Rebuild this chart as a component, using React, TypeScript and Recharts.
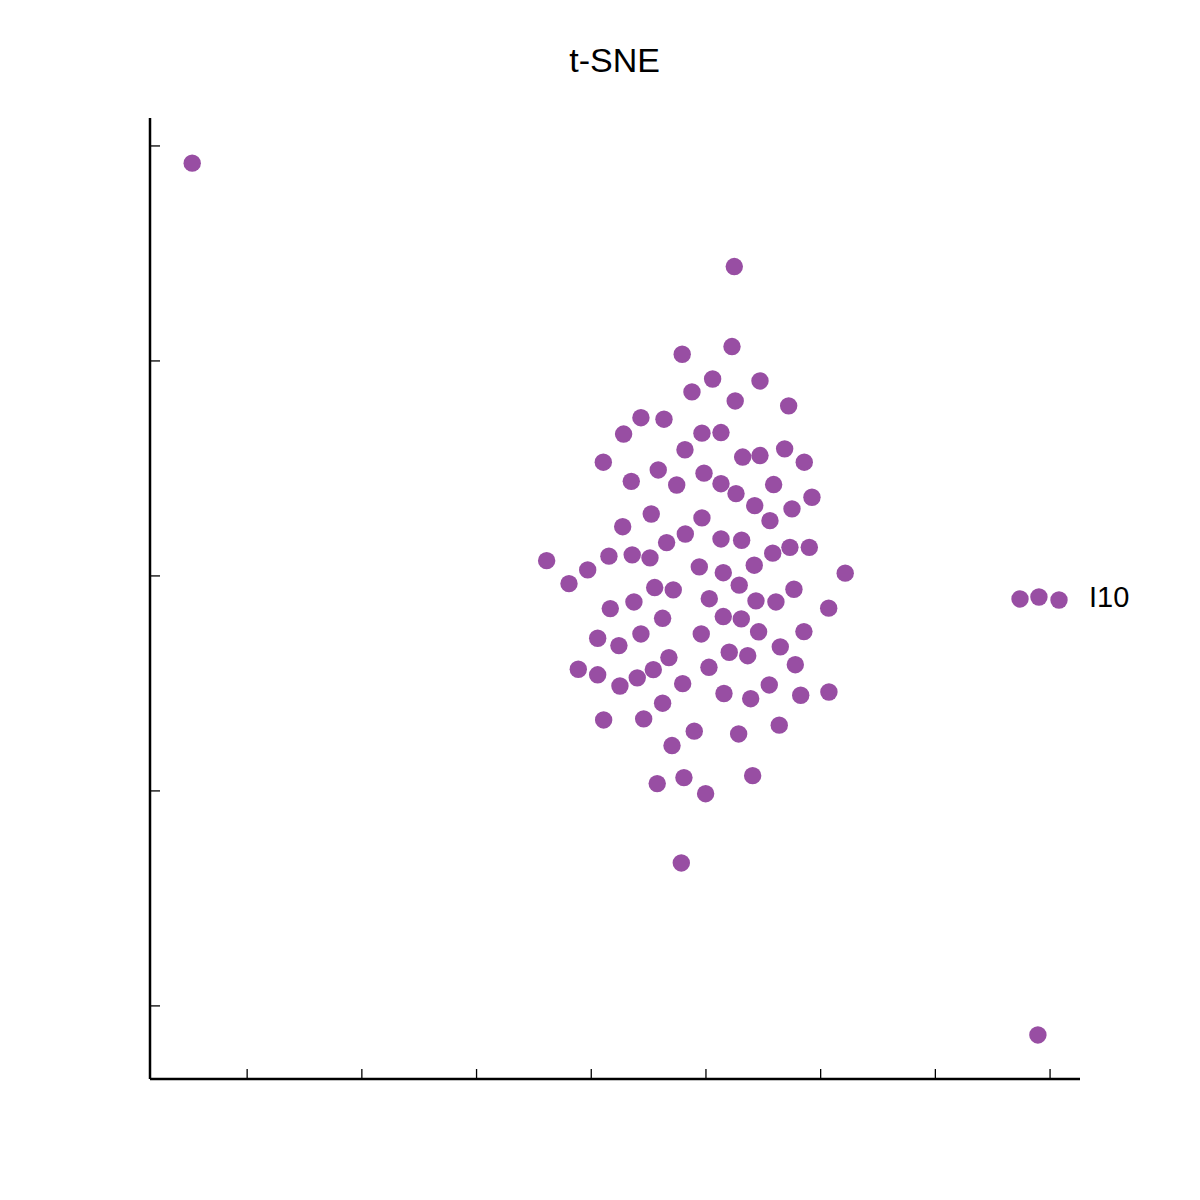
import React from "react";
import { ScatterChart, Scatter, XAxis, YAxis, ZAxis, LabelList } from "recharts";

// t-SNE embedding
const clusterPoints: [number, number][] = [
  [2.27, 10.67], [-2.07, 10.31], [0.58, 9.16], [-1.22, 8.56], [4.71, 9.07],
  [2.55, 8.14], [7.21, 7.91], [-5.67, 7.36], [-3.66, 7.29], [-7.18, 6.6],
  [-0.35, 6.64], [1.31, 6.67], [-1.83, 5.87], [3.2, 5.53], [4.71, 5.6],
  [6.86, 5.91], [8.57, 5.29], [-8.95, 5.29], [-4.16, 4.93], [-6.51, 4.4],
  [-2.55, 4.23], [-0.17, 4.78], [1.31, 4.29], [2.62, 3.83], [5.9, 4.25],
  [4.25, 3.27], [9.24, 3.66], [7.5, 3.12], [5.58, 2.57], [-4.77, 2.88],
  [-7.26, 2.29], [-0.35, 2.7], [-1.8, 1.95], [-3.43, 1.55], [1.31, 1.72],
  [3.11, 1.66], [-13.89, 0.71], [-10.31, 0.28], [-8.46, 0.92], [-6.43, 0.98],
  [-4.88, 0.84], [-0.58, 0.42], [1.51, 0.15], [4.21, 0.5], [5.82, 1.06],
  [7.32, 1.33], [9.01, 1.33], [12.14, 0.13], [-11.94, -0.36], [-4.47, -0.54],
  [-2.85, -0.65], [2.9, -0.43], [0.29, -1.06], [4.36, -1.16], [6.1, -1.21],
  [7.67, -0.62], [10.7, -1.5], [-8.34, -1.52], [-6.28, -1.21], [-3.78, -1.97],
  [1.51, -1.89], [3.08, -2.0], [4.59, -2.6], [8.54, -2.59], [-9.44, -2.9],
  [-7.59, -3.24], [-5.67, -2.7], [-0.41, -2.7], [6.48, -3.3], [2.03, -3.55],
  [3.64, -3.71], [-3.23, -3.8], [7.79, -4.13], [-11.13, -4.34], [-9.44, -4.6],
  [-7.5, -5.12], [-5.99, -4.74], [-4.59, -4.36], [0.26, -4.25], [-2.03, -5.01],
  [5.52, -5.07], [1.57, -5.47], [3.9, -5.71], [8.26, -5.55], [10.72, -5.4],
  [-3.78, -5.92], [-8.92, -6.7], [-5.43, -6.65], [-1.02, -7.22], [2.85, -7.35],
  [6.39, -6.94], [-2.96, -7.89], [-4.25, -9.66], [-1.92, -9.38], [-0.03, -10.13],
  [4.07, -9.29],
];

const outlierPoints: [number, number][] = [
  [-44.79, 19.2], [2.47, 14.39], [-2.15, -13.35], [28.94, -21.35],
];

const i10Points: [number, number][] = [
  [27.38, -1.07], [29.03, -0.98], [30.78, -1.12],
];
const i10Label = "I10";

const xTicks = [-40, -30, -20, -10, 0, 10, 20, 30];
const yTicks = [-20, -10, 0, 10, 20];

const dotColor = "#984ea3";
const font = "'Liberation Sans', Arial, Helvetica, sans-serif";

const mainData = [...clusterPoints, ...outlierPoints].map(([x, y]) => ({ x, y }));
const i10Data = i10Points.map(([x, y], i) => ({
  x,
  y,
  name: i === i10Points.length - 1 ? i10Label : "",
}));

const Dot = (props: any) => (
  <circle cx={props.cx} cy={props.cy} r={8.7} fill={dotColor} />
);

const renderPointLabel = (props: any) => {
  if (!props.value) return null;
  const vb = props.viewBox ?? props;
  const cx = vb.x + (vb.width || 0) / 2;
  const cy = vb.y + (vb.height || 0) / 2;
  return (
    <text x={cx + 30} y={cy + 7.3} fontSize={29} fontFamily={font} fill="#000">
      {props.value}
    </text>
  );
};

export default function App() {
  return (
    <div style={{ position: "absolute", left: 0, top: 0, width: 1200, height: 1200, background: "#fff" }}>
      <ScatterChart
        width={1200}
        height={1200}
        margin={{ top: 118, right: 120, bottom: 121, left: 150 }}
      >
        <XAxis
          type="number"
          dataKey="x"
          domain={[-48.47, 32.61]}
          ticks={xTicks}
          allowDataOverflow
          mirror
          tickSize={10}
          tickFormatter={() => ""}
          axisLine={{ stroke: "#000", strokeWidth: 2.5 }}
          tickLine={{ stroke: "#000", strokeWidth: 1.3 }}
        />
        <YAxis
          type="number"
          dataKey="y"
          domain={[-23.4, 21.3]}
          ticks={yTicks}
          allowDataOverflow
          mirror
          tickSize={10}
          tickFormatter={() => ""}
          axisLine={{ stroke: "#000", strokeWidth: 2.5 }}
          tickLine={{ stroke: "#000", strokeWidth: 1.3 }}
        />
        <ZAxis range={[238, 238]} />
        <Scatter data={mainData} shape={Dot} isAnimationActive={false} />
        <Scatter data={i10Data} shape={Dot} isAnimationActive={false}>
          <LabelList dataKey="name" content={renderPointLabel} />
        </Scatter>
      </ScatterChart>
      <svg
        width={1200}
        height={1200}
        style={{ position: "absolute", left: 0, top: 0, pointerEvents: "none" }}
      >
        <text x={614.7} y={71.7} textAnchor="middle" fontSize={34} fontFamily={font} fill="#000">
          t-SNE
        </text>
      </svg>
    </div>
  );
}
